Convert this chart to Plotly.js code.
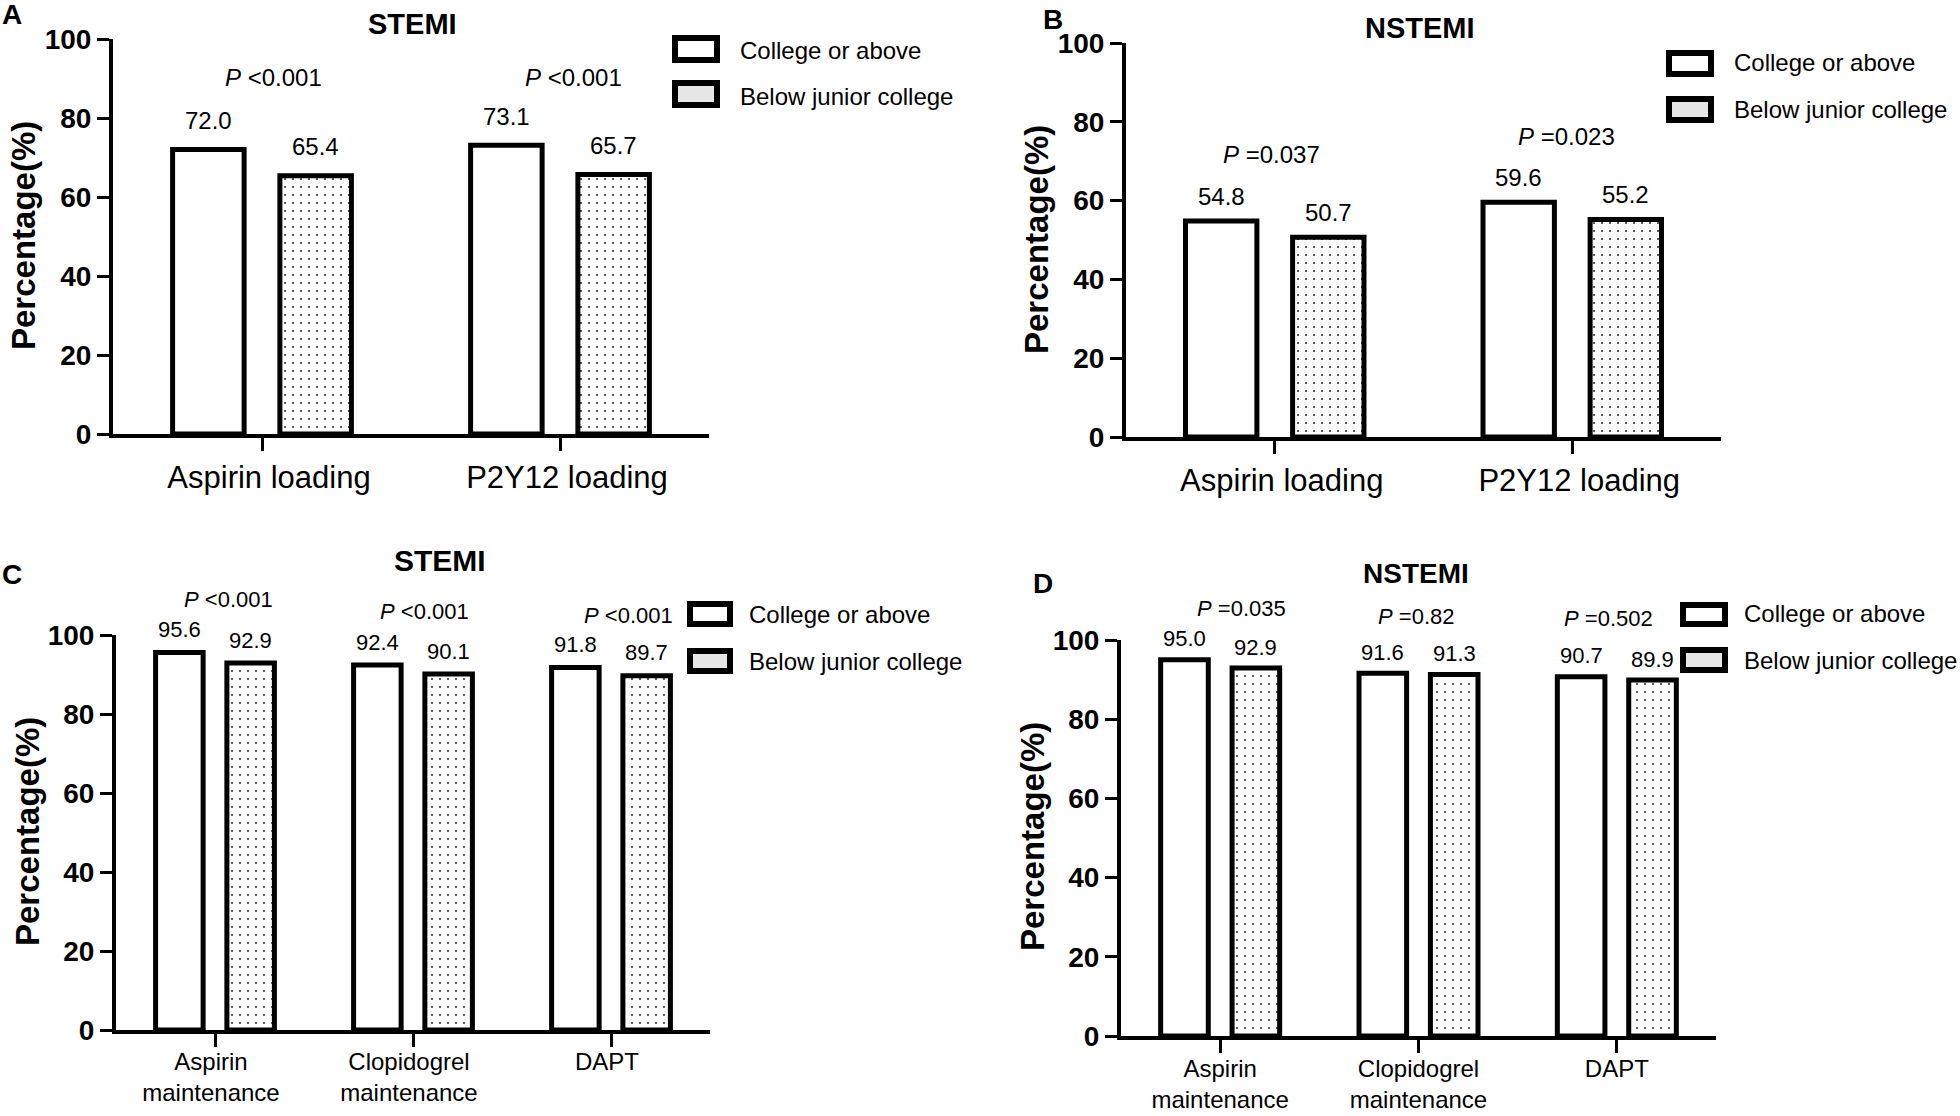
<!DOCTYPE html>
<html><head><meta charset="utf-8">
<script src="https://cdn.plot.ly/plotly-3.0.1.min.js"></script>
<style>html,body{margin:0;padding:0;background:#fff;overflow:hidden}#chart{width:1960px;height:1116px}</style>
</head><body><div id="chart"></div>
<script>
// ---------- data ----------
const seriesNames = ['College or above', 'Below junior college'];
const loadingCategories = ['Aspirin loading', 'P2Y12 loading'];
const maintenanceCategories = ['Aspirin<br>maintenance', 'Clopidogrel<br>maintenance', 'DAPT'];
const panelTitles = ['STEMI', 'NSTEMI', 'STEMI', 'NSTEMI'];
const panelLetters = ['A', 'B', 'C', 'D'];
const yTickValues = [0, 20, 40, 60, 80, 100];
const yAxisTitle = 'Percentage(%)';

const collegeA = [72.0, 73.1];
const belowA = [65.4, 65.7];
const pA = ['<0.001', '<0.001'];

const collegeB = [54.8, 59.6];
const belowB = [50.7, 55.2];
const pB = ['=0.037', '=0.023'];

const collegeC = [95.6, 92.4, 91.8];
const belowC = [92.9, 90.1, 89.7];
const pC = ['<0.001', '<0.001', '<0.001'];

const collegeD = [95.0, 91.6, 90.7];
const belowD = [92.9, 91.3, 89.9];
const pD = ['=0.035', '=0.82', '=0.502'];

// ---------- layout / style ----------
const W = 1960, H = 1116;
const FONT = 'Liberation Sans, Arial, Helvetica, sans-serif';
const px = x => x / W;
const py = y => 1 - y / H;
const BAR_W = 0.24, OFF1 = -0.30, OFF2 = 0.06;

// pPos: [x offset from category (category units), label centre y (page px)]
const panels = [
  { cats: loadingCategories, college: collegeA, below: belowA, p: pA,
    plot: [113, 709, 39, 434], xrange: [-0.5, 1.5], tickFont: 31, tickShift: 7, tickStandoff: 0,
    labelFont: 24, labelShift: 29,
    pFont: 24, pPos: [[0.037, 77], [0.044, 77]],
    title: [412, 24, 29], letter: [12, 15], ytitle: [23, 236],
    legend: { bx: [672, 720], b1: [35, 63], b2: [80, 108], tx: 738, ty: [50, 97] } },
  { cats: loadingCategories, college: collegeB, below: belowB, p: pB,
    plot: [1126, 1721, 43, 437], xrange: [-0.5, 1.5], tickFont: 31, tickShift: 7, tickStandoff: 0,
    labelFont: 24, labelShift: 25,
    pFont: 24, pPos: [[-0.01, 155], [-0.02, 137]],
    title: [1420, 28, 29], letter: [1053, 20], ytitle: [1036, 240],
    legend: { bx: [1666, 1714], b1: [50, 77], b2: [96, 123], tx: 1732, ty: [63, 110] } },
  { cats: maintenanceCategories, college: collegeC, below: belowC, p: pC,
    plot: [116, 710, 635, 1030], xrange: [-0.5, 2.5], tickFont: 24, tickShift: -4, tickStandoff: -6,
    labelFont: 22, labelShift: 23,
    pFont: 22, pPos: [[0.066, 599], [0.06, 611], [0.086, 615]],
    title: [440, 560, 30], letter: [12, 574], ytitle: [27, 832],
    legend: { bx: [687, 733], b1: [601, 627], b2: [648, 674], tx: 747, ty: [614, 661] } },
  { cats: maintenanceCategories, college: collegeD, below: belowD, p: pD,
    plot: [1121, 1716, 640, 1036], xrange: [-0.5, 2.5], tickFont: 24, tickShift: 0, tickStandoff: -5,
    labelFont: 22, labelShift: 21,
    pFont: 22, pPos: [[0.11, 608], [-0.015, 616], [-0.04, 618]],
    title: [1416, 573, 28], letter: [1043, 583], ytitle: [1032, 837],
    legend: { bx: [1680, 1728], b1: [602, 627], b2: [647, 673], tx: 1742, ty: [613, 660] } }
];

const traces = [];
const layout = {
  width: W, height: H, margin: { l: 0, r: 0, t: 0, b: 0 },
  paper_bgcolor: 'white', plot_bgcolor: 'white',
  font: { family: FONT, color: 'black' },
  showlegend: false, barmode: 'overlay',
  annotations: [], shapes: []
};

panels.forEach((pn, k) => {
  const n = k === 0 ? '' : String(k + 1);
  const xa = 'x' + n, ya = 'y' + n;
  const common = { type: 'bar', x: pn.cats, xaxis: xa, yaxis: ya, width: pn.cats.map(() => BAR_W),
    cliponaxis: false, hoverinfo: 'x+y' };
  traces.push(Object.assign({}, common, {
    name: seriesNames[0], y: pn.college, offset: OFF1,
    marker: { color: 'white', line: { color: 'black', width: 5 } }
  }));
  traces.push(Object.assign({}, common, {
    name: seriesNames[1], y: pn.below, offset: OFF2,
    marker: { color: 'white', line: { color: 'black', width: 5 },
      pattern: { shape: '.', size: 8, solidity: 0.06, fgcolor: '#3a3a3a', bgcolor: 'white', fillmode: 'replace' } }
  }));

  const [x0, x1, yTop, yBot] = pn.plot;
  layout['xaxis' + n] = {
    domain: [px(x0), px(x1)], anchor: ya, type: 'category', range: pn.xrange,
    showline: true, linecolor: 'black', linewidth: 4, showgrid: false, zeroline: false,
    ticks: 'outside', ticklen: 13, tickwidth: 3, tickcolor: 'black',
    tickfont: { family: FONT, size: pn.tickFont, color: 'black' },
    ticklabelshift: pn.tickShift, ticklabelstandoff: pn.tickStandoff,
    fixedrange: true
  };
  layout['yaxis' + n] = {
    domain: [py(yBot), py(yTop)], anchor: xa, range: [0, 100],
    tickvals: yTickValues, ticktext: yTickValues.map(String),
    showline: true, linecolor: 'black', linewidth: 4, showgrid: false, zeroline: false,
    ticks: 'outside', ticklen: 12, tickwidth: 3, tickcolor: 'black',
    tickfont: { family: FONT, size: 28, color: 'black', weight: 'bold' },
    fixedrange: true
  };

  const A = layout.annotations;
  pn.cats.forEach((c, i) => {
    A.push({ xref: xa, yref: ya, x: i + OFF1 + BAR_W / 2, y: pn.college[i], text: pn.college[i].toFixed(1),
      showarrow: false, yanchor: 'middle', yshift: pn.labelShift, font: { size: pn.labelFont, family: FONT } });
    A.push({ xref: xa, yref: ya, x: i + OFF2 + BAR_W / 2, y: pn.below[i], text: pn.below[i].toFixed(1),
      showarrow: false, yanchor: 'middle', yshift: pn.labelShift, font: { size: pn.labelFont, family: FONT } });
    A.push({ xref: xa, yref: 'paper', x: i + pn.pPos[i][0], y: py(pn.pPos[i][1]),
      text: '<i>P</i> ' + pn.p[i].replace('<', '&lt;'),
      showarrow: false, yanchor: 'middle', font: { size: pn.pFont, family: FONT } });
  });
  A.push({ xref: 'paper', yref: 'paper', x: px(pn.title[0]), y: py(pn.title[1]), text: '<b>' + panelTitles[k] + '</b>',
    showarrow: false, xanchor: 'center', yanchor: 'middle', font: { size: pn.title[2], family: FONT } });
  A.push({ xref: 'paper', yref: 'paper', x: px(pn.letter[0]), y: py(pn.letter[1]), text: '<b>' + panelLetters[k] + '</b>',
    showarrow: false, xanchor: 'center', yanchor: 'middle', font: { size: 28, family: FONT } });
  A.push({ xref: 'paper', yref: 'paper', x: px(pn.ytitle[0]), y: py(pn.ytitle[1]), text: '<b>' + yAxisTitle + '</b>',
    textangle: -90, showarrow: false, xanchor: 'center', yanchor: 'middle', font: { size: 33, family: FONT } });
  const L = pn.legend;
  [L.b1, L.b2].forEach((b, j) => {
    layout.shapes.push({ type: 'rect', xref: 'paper', yref: 'paper',
      x0: px(L.bx[0] + 3), x1: px(L.bx[1] - 3), y0: py(b[1] - 3), y1: py(b[0] + 3),
      line: { color: 'black', width: 6 }, fillcolor: j === 0 ? 'white' : '#e6e6e6' });
    A.push({ xref: 'paper', yref: 'paper', x: px(L.tx), y: py(L.ty[j]), text: seriesNames[j],
      showarrow: false, xanchor: 'left', yanchor: 'middle', font: { size: 24, family: FONT } });
  });
});

Plotly.newPlot('chart', traces, layout, { staticPlot: true, displayModeBar: false });
</script>
</body></html>
